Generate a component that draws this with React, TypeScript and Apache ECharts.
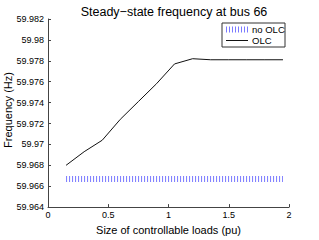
import React, { useEffect, useRef } from "react";
import * as echarts from "echarts";

const loadSizes = [0.15, 0.3, 0.45, 0.6, 0.75, 0.9, 1.05, 1.2, 1.35, 1.5, 1.65, 1.8, 1.95];
const olcFreq = [59.968, 59.9693, 59.9704, 59.9724, 59.9741, 59.9758, 59.9777, 59.9782, 59.9781, 59.9781, 59.9781, 59.9781, 59.9781];
const noOlcFreq = [59.9667, 59.9667, 59.9667, 59.9667, 59.9667, 59.9667, 59.9667, 59.9667, 59.9667, 59.9667, 59.9667, 59.9667, 59.9667];
const seriesNames = ["no OLC", "OLC"];

const FONT = "Liberation Sans, Arial, Helvetica, sans-serif";
const BLUE = "#7a7aff";

export default function App() {
  const ref = useRef<HTMLDivElement>(null);
  useEffect(() => {
    if (!ref.current) return;
    const chart = echarts.init(ref.current, undefined, { renderer: "svg" });
    chart.setOption({
      animation: false,
      backgroundColor: "#fff",
      title: {
        text: "Steady\u2212state frequency at bus 66",
        left: 169,
        textAlign: "center",
        top: 0,
        textStyle: { fontFamily: FONT, fontSize: 12.5, fontWeight: "normal", color: "#000" },
      },
      grid: { left: 48, right: 30, top: 19, bottom: 26 },
      xAxis: {
        type: "value",
        min: 0,
        max: 2,
        interval: 0.5,
        name: "Size of controllable loads (pu)",
        nameLocation: "middle",
        nameGap: 16,
        nameTextStyle: { fontFamily: FONT, fontSize: 11, color: "#000" },
        axisLine: { lineStyle: { color: "#444", width: 1 } },
        axisTick: { inside: true, length: 3, lineStyle: { color: "#444" } },
        axisLabel: { fontFamily: FONT, fontSize: 9, color: "#000", margin: 3 },
        splitLine: { show: false },
      },
      yAxis: {
        type: "value",
        min: 59.964,
        max: 59.982,
        interval: 0.002,
        axisLine: { show: true, lineStyle: { color: "#444", width: 1 } },
        axisTick: { show: true, inside: true, length: 3, lineStyle: { color: "#444" } },
        axisLabel: { fontFamily: FONT, fontSize: 9, color: "#000", margin: 4 },
        splitLine: { show: false },
      },
      series: [
        {
          name: seriesNames[0],
          type: "line",
          data: loadSizes.map((x, i) => [x, noOlcFreq[i]]),
          symbol: "none",
          lineStyle: { color: BLUE, width: 6, type: [1, 2], cap: "butt" },
        },
        {
          name: seriesNames[1],
          type: "line",
          data: loadSizes.map((x, i) => [x, olcFreq[i]]),
          symbol: "none",
          lineStyle: { color: "#111", width: 1 },
        },
      ],
      graphic: [
        {
          type: "text",
          x: 8,
          y: 110,
          rotation: Math.PI / 2,
          style: { text: "Frequency (Hz)", fontFamily: FONT, fontSize: 11, fill: "#000", align: "center", verticalAlign: "middle" },
        },
        {
          type: "rect",
          shape: { x: 222, y: 23, width: 63, height: 24 },
          style: { fill: "#fff", stroke: "#333", lineWidth: 1 },
        },
        {
          type: "line",
          shape: { x1: 226, y1: 29.5, x2: 248, y2: 29.5 },
          style: { stroke: BLUE, lineWidth: 6, lineDash: [1, 2], lineCap: "butt" },
        },
        {
          type: "text",
          x: 252,
          y: 29.5,
          style: { text: seriesNames[0], fontFamily: FONT, fontSize: 9.5, fill: "#000", verticalAlign: "middle" },
        },
        {
          type: "line",
          shape: { x1: 226, y1: 40.5, x2: 248, y2: 40.5 },
          style: { stroke: "#111", lineWidth: 1 },
        },
        {
          type: "text",
          x: 252,
          y: 40.5,
          style: { text: seriesNames[1], fontFamily: FONT, fontSize: 9.5, fill: "#000", verticalAlign: "middle" },
        },
      ],
    });
    return () => chart.dispose();
  }, []);
  return <div ref={ref} style={{ width: 319, height: 240, position: "absolute", left: 0, top: 0 }} />;
}
